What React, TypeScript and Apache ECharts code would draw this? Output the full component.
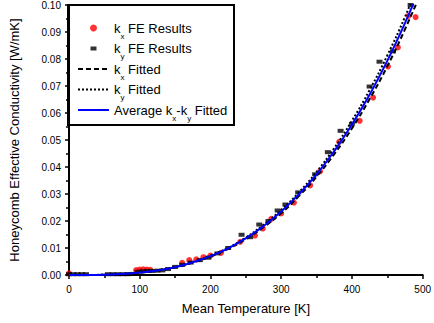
import React, { useEffect, useRef } from "react";
import * as echarts from "echarts";

const kxFE: [number, number][] = [
  [0, 0.0006], [95, 0.0018], [100, 0.002], [105, 0.0021], [110, 0.002], [115, 0.0019],
  [160, 0.0045], [170, 0.0055], [180, 0.0058], [190, 0.0066], [200, 0.0072], [215, 0.0082],
  [242, 0.0123], [263, 0.0146], [274, 0.0172], [286, 0.0208], [300, 0.0228], [318, 0.0268],
  [341, 0.0332], [355, 0.0384], [382, 0.0493], [411, 0.0571], [430, 0.0657], [451, 0.0772],
  [465, 0.0843], [480, 0.096], [490, 0.0955],
];
const kyFE: [number, number][] = [
  [0, 0.0003], [6, 0.0003], [12, 0.0003], [18, 0.0003], [24, 0.0003],
  [55, 0.0003], [62, 0.0003], [69, 0.0003], [76, 0.0003], [83, 0.0003], [90, 0.0004],
  [97, 0.0012], [104, 0.0014], [111, 0.0015], [118, 0.0015], [125, 0.0016], [132, 0.0017],
  [140, 0.0022], [150, 0.003], [160, 0.0038], [172, 0.0046], [185, 0.0055], [197, 0.0064],
  [210, 0.008], [225, 0.01], [244, 0.0149], [256, 0.014], [269, 0.0187], [282, 0.02],
  [295, 0.0239], [306, 0.0261], [324, 0.0306], [348, 0.0373], [366, 0.0455], [384, 0.0534],
  [400, 0.056], [425, 0.0698], [439, 0.079], [458, 0.0828], [483, 0.1],
];
const fitT = [0, 25, 50, 75, 100, 125, 150, 175, 200, 225, 250, 275, 300, 325, 350, 375, 400, 425, 450, 475, 500];
const kxFit = [0, 0.00001, 0.0001, 0.0004, 0.0009, 0.0017, 0.0028, 0.0046, 0.0068, 0.0097, 0.0133, 0.0177, 0.0229, 0.0292, 0.0364, 0.0448, 0.0543, 0.0652, 0.0773, 0.091, 0.106];
const kyFit = [0, 0.00001, 0.0001, 0.0004, 0.0009, 0.0018, 0.003, 0.0048, 0.0072, 0.0101, 0.0139, 0.0186, 0.0241, 0.0306, 0.0382, 0.047, 0.0571, 0.0685, 0.0813, 0.0956, 0.1115];
const avgFit = [0, 0.00001, 0.0001, 0.0004, 0.0009, 0.0017, 0.0029, 0.0047, 0.007, 0.0099, 0.0136, 0.0181, 0.0235, 0.0299, 0.0373, 0.0459, 0.0557, 0.0668, 0.0793, 0.0933, 0.1088];
const xTicks = { min: 0, max: 500, interval: 100 };
const yTicks = { min: 0, max: 0.1, interval: 0.01 };

const names = ["kx FE Results", "ky FE Results", "kx Fitted", "ky Fitted", "Average kx-ky Fitted"];
const richNames: Record<string, string> = {
  "kx FE Results": "{n|k}{s|x}{n| FE Results}",
  "ky FE Results": "{n|k}{s|y}{n| FE Results}",
  "kx Fitted": "{n|k}{s|x}{n| Fitted}",
  "ky Fitted": "{n|k}{s|y}{n| Fitted}",
  "Average kx-ky Fitted": "{n|Average k}{s|x}{n|-k}{s|y}{n| Fitted}",
};

const FONT = "Liberation Sans, Arial, sans-serif";

export default function App() {
  const ref = useRef<HTMLDivElement>(null);
  useEffect(() => {
    const chart = echarts.init(ref.current!, null, { renderer: "svg" });
    const zip = (ys: number[]) => fitT.map((t, i) => [t, ys[i]]);
    const hideSym = { opacity: 0 };
    chart.setOption({
      animation: false,
      textStyle: { fontFamily: FONT },
      grid: { left: 64, right: 6, top: 5, bottom: 48 },
      xAxis: {
        type: "value", ...xTicks,
        name: "Mean Temperature [K]", nameLocation: "middle", nameGap: 27,
        nameTextStyle: { fontSize: 13, color: "#000", fontFamily: FONT },
        axisLine: { show: true, onZero: false, lineStyle: { color: "#000", width: 2 } },
        axisTick: { show: true, length: 4, lineStyle: { color: "#000", width: 1.5 } },
        minorTick: { show: true, splitNumber: 2, length: 3, lineStyle: { color: "#000", width: 1.5 } },
        axisLabel: { fontSize: 10, color: "#000", margin: 9, fontFamily: FONT },
        splitLine: { show: false },
      },
      yAxis: {
        type: "value", ...yTicks,
        name: "Honeycomb Effective Conductivity [W/mK]", nameLocation: "middle", nameGap: 48,
        nameTextStyle: { fontSize: 13, color: "#000", fontFamily: FONT },
        axisLine: { show: true, onZero: false, lineStyle: { color: "#000", width: 2 } },
        axisTick: { show: true, length: 4, lineStyle: { color: "#000", width: 1.5 } },
        minorTick: { show: true, splitNumber: 2, length: 3, lineStyle: { color: "#000", width: 1.5 } },
        axisLabel: { fontSize: 10, color: "#000", margin: 8, fontFamily: FONT, formatter: (v: number) => v.toFixed(2) },
        splitLine: { show: false },
      },
      legend: {
        orient: "vertical", left: 77, top: 16, padding: 0,
        itemWidth: 31, itemHeight: 7, itemGap: -3.5,
        data: [
          { name: names[0], icon: "circle" },
          { name: names[1], icon: "path://M0,0M0,7M31,0M31,7M12.5,1.5h6v4h-6z" },
          { name: names[2], itemStyle: hideSym },
          { name: names[3], itemStyle: hideSym },
          { name: names[4], itemStyle: hideSym },
        ],
        formatter: (n: string) => richNames[n] || n,
        textStyle: {
          color: "#000", fontFamily: FONT,
          rich: {
            n: { fontSize: 13, lineHeight: 16, color: "#000", fontFamily: FONT },
            s: { fontSize: 8, lineHeight: 8, padding: [16, 0, 0, 0], color: "#000", fontFamily: FONT },
          },
        },
      },
      graphic: [
        { type: "rect", shape: { x: 68, y: 5, width: 166, height: 120 }, style: { fill: "none", stroke: "#000", lineWidth: 2 }, z: 10 },
      ],
      series: [
        { name: names[0], type: "scatter", data: kxFE, symbol: "circle", symbolSize: 6, itemStyle: { color: "#ff0000" } },
        { name: names[1], type: "scatter", data: kyFE, symbol: "rect", symbolSize: [6, 4], itemStyle: { color: "#000" } },
        { name: names[2], type: "line", data: zip(kxFit), symbol: "none", smooth: true, lineStyle: { color: "#000", width: 2, type: [5, 3] }, itemStyle: { color: "#000" } },
        { name: names[3], type: "line", data: zip(kyFit), symbol: "none", smooth: true, lineStyle: { color: "#000", width: 2, type: [2, 2] }, itemStyle: { color: "#000" } },
        { name: names[4], type: "line", data: zip(avgFit), symbol: "none", smooth: true, lineStyle: { color: "#0000ff", width: 2 }, itemStyle: { color: "#0000ff" } },
      ],
    });
    return () => chart.dispose();
  }, []);
  return <div ref={ref} style={{ width: 434, height: 323, position: "absolute", left: 0, top: 0 }} />;
}
